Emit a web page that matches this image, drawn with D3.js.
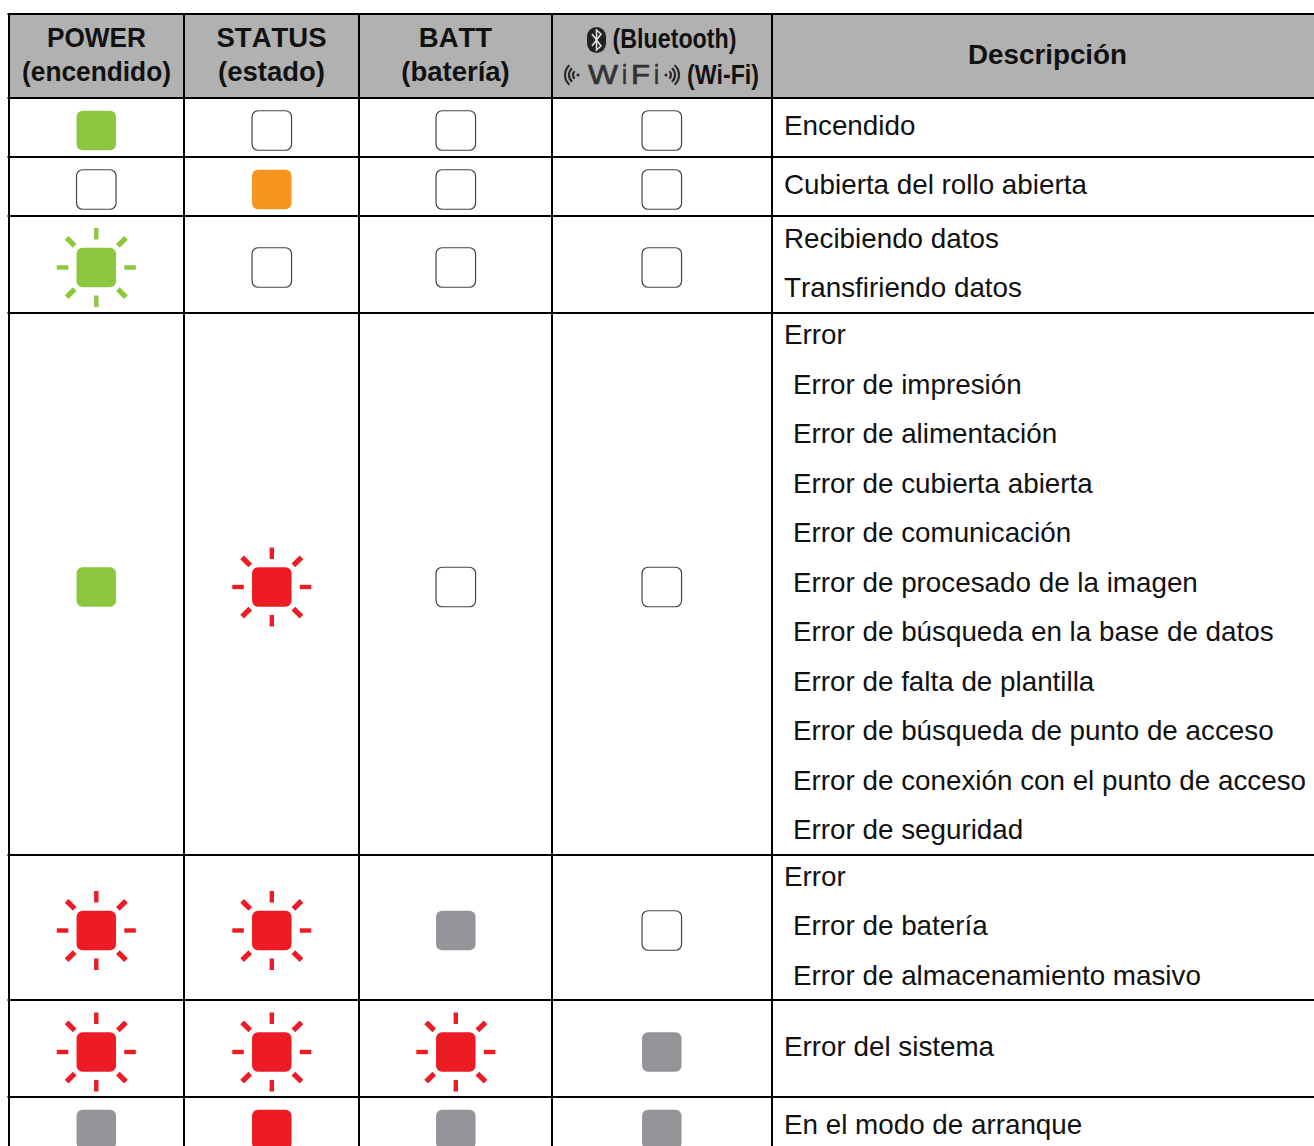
<!DOCTYPE html>
<html>
<head>
<meta charset="utf-8">
<script src="https://cdn.jsdelivr.net/npm/d3@7"></script>
<style>
body { margin: 0; background: #fff; }
svg { display: block; }
text { font-family: "Liberation Sans", Arial, sans-serif; fill: #111; font-kerning: none; }
</style>
</head>
<body>
<script>
const width = 1314;
const height = 1146;

// table content
const columns = ["power", "status", "batt", "wireless", "desc"];
const headerPower = ["POWER", "(encendido)"];
const headerStatus = ["STATUS", "(estado)"];
const headerBatt = ["BATT", "(batería)"];
const headerDesc = "Descripción";
const rowIds = ["r0", "r1", "r2", "r3", "r4", "r5", "r6"];

// lamp state per row: off, colour name = on, * = blinking
const powerStates = ["green", "off", "green*", "green", "red*", "red*", "gray"];
const statusStates = ["off", "orange", "off", "red*", "red*", "red*", "red"];
const battStates = ["off", "off", "off", "off", "gray", "red*", "gray"];
const wirelessStates = ["off", "off", "off", "off", "off", "gray", "gray"];

const descriptions = [
  ["Encendido"],
  ["Cubierta del rollo abierta"],
  ["Recibiendo datos", "Transfiriendo datos"],
  ["Error", " Error de impresión", " Error de alimentación", " Error de cubierta abierta",
   " Error de comunicación", " Error de procesado de la imagen", " Error de búsqueda en la base de datos",
   " Error de falta de plantilla", " Error de búsqueda de punto de acceso",
   " Error de conexión con el punto de acceso", " Error de seguridad"],
  ["Error", " Error de batería", " Error de almacenamiento masivo"],
  ["Error del sistema"],
  ["En el modo de arranque"]
];

// layout, kept apart from the values
const colEdges = [9, 184, 359, 552, 772, 1316];
const rowEdges = [98, 157, 216, 313, 855, 1000, 1097, 1160];
const lampRowY = [130.5, 189.5, 267.5, 587, 930.5, 1052, 1129.5];
const lampColX = [96.3, 271.8, 455.8, 661.8];
const textRowY = [135, 194, 247.5, 344, 885.8, 1056, 1134];
const lineStep = 49.5;
const headTop = 14;
const lampSize = 39.5;

const lampColor = { green: "#8dc63f", orange: "#f7941d", red: "#ed1c24", gray: "#939598" };

const xCenter = d3.scaleOrdinal().domain(columns.slice(0, 4)).range(lampColX);
const yLamp = d3.scaleOrdinal().domain(rowIds).range(lampRowY);
const yText = d3.scaleOrdinal().domain(rowIds).range(textRowY);

const svg = d3.select("body").append("svg")
  .attr("width", width)
  .attr("height", height)
  .attr("viewBox", [0, 0, width, height]);

// header band
svg.append("rect")
  .attr("x", colEdges[0]).attr("y", headTop)
  .attr("width", width - colEdges[0]).attr("height", rowEdges[0] - headTop)
  .attr("fill", "#b1b1b1");

// header text, two labels need squeezing to the printed width
const squeezed = { "POWER": 99, "(encendido)": 149 };
function headerText(lines, cx) {
  svg.selectAll(null).data(lines).enter().append("text")
    .attr("x", cx)
    .attr("y", (d, i) => 47 + i * 34)
    .attr("text-anchor", "middle")
    .attr("font-size", 27.5)
    .attr("font-weight", "bold")
    .attr("textLength", d => squeezed[d] || null)
    .attr("lengthAdjust", "spacingAndGlyphs")
    .text(d => d);
}
headerText(headerPower, (colEdges[0] + colEdges[1]) / 2);
headerText(headerStatus, (colEdges[1] + colEdges[2]) / 2);
headerText(headerBatt, (colEdges[2] + colEdges[3]) / 2);

svg.append("text")
  .attr("x", 1047.5).attr("y", 64)
  .attr("text-anchor", "middle")
  .attr("font-size", 27.8)
  .attr("font-weight", "bold")
  .text(headerDesc);

// wireless header: condensed labels plus the two logos
const wl = svg.append("g");
wl.append("text").attr("x", 612.5).attr("y", 48)
  .attr("font-size", 27).attr("font-weight", "bold")
  .attr("textLength", 124).attr("lengthAdjust", "spacingAndGlyphs")
  .text("(Bluetooth)");
wl.append("text").attr("x", 687).attr("y", 84)
  .attr("font-size", 27).attr("font-weight", "bold")
  .attr("textLength", 72).attr("lengthAdjust", "spacingAndGlyphs")
  .text("(Wi-Fi)");

wl.append("rect")
  .attr("x", 587).attr("y", 27).attr("width", 19).attr("height", 26)
  .attr("rx", 9.5).attr("fill", "#222");
wl.append("path")
  .attr("d", "M592 34 L601 46 L596.5 50 L596.5 30 L601 34 L592 46")
  .attr("fill", "none").attr("stroke", "#ddd").attr("stroke-width", 1.6);

// Wi-Fi logo letters
const logoLetters = ["W", "i", "F", "i"];
const logoX = [588, 622, 631, 654];
const logoW = [30, 5, 19, 5];
wl.selectAll(null).data(logoLetters).enter().append("text")
  .attr("x", (d, i) => logoX[i]).attr("y", 84)
  .attr("font-size", 28)
  .attr("textLength", (d, i) => logoW[i]).attr("lengthAdjust", "spacingAndGlyphs")
  .style("fill", "#333")
  .style("stroke", "#333").style("stroke-width", 0.7)
  .text(d => d);

// little radio waves either side of the logo
const waveArc = d3.arc().startAngle(-0.85).endAngle(0.85);
[5, 9, 13].forEach(function(r) {
  [[-1, 578], [1, 666]].forEach(function(s) {
    wl.append("path")
      .attr("transform", `translate(${s[1]},75) rotate(${s[0] * 90})`)
      .attr("d", waveArc({ innerRadius: r - 1.1, outerRadius: r + 1.1 }))
      .attr("fill", "#2a2a2a");
  });
});
wl.selectAll(null).data([578, 666]).enter().append("circle")
  .attr("cx", d => d).attr("cy", 75).attr("r", 1.6).attr("fill", "#2a2a2a");

// lamps
const rayAngles = d3.range(8).map(i => i * 45);
const cells = [];
[powerStates, statusStates, battStates, wirelessStates].forEach(function(states, c) {
  states.forEach(function(s, r) {
    cells.push({ col: columns[c], row: rowIds[r], state: s });
  });
});

const lamp = svg.selectAll("g.lamp").data(cells).enter().append("g")
  .attr("class", "lamp")
  .attr("transform", d => `translate(${xCenter(d.col)},${yLamp(d.row)})`);

lamp.append("rect")
  .attr("x", -lampSize / 2).attr("y", -lampSize / 2)
  .attr("width", lampSize).attr("height", lampSize)
  .attr("rx", 6)
  .attr("fill", d => d.state === "off" ? "#fff" : lampColor[d.state.replace("*", "")])
  .attr("stroke", d => d.state === "off" ? "#444" : "none")
  .attr("stroke-width", 1.2);

lamp.filter(d => d.state.endsWith("*"))
  .selectAll("rect.ray")
  .data(d => rayAngles.map(a => ({ a: a, color: lampColor[d.state.replace("*", "")] })))
  .enter().append("rect")
  .attr("class", "ray")
  .attr("x", d => d.a % 90 ? -2.6 : -2.2)
  .attr("y", d => d.a % 90 ? -42 : -39.5)
  .attr("width", d => d.a % 90 ? 5.2 : 4.4)
  .attr("height", 11.5)
  .attr("fill", d => d.color)
  .attr("transform", d => `rotate(${d.a})`);

// description column
const descRows = svg.selectAll("g.desc").data(descriptions).enter().append("g")
  .attr("class", "desc");

descRows.selectAll("text")
  .data((d, i) => d.map((t, j) => ({ t: t, row: rowIds[i], j: j })))
  .enter().append("text")
  .attr("x", d => d.t.startsWith(" ") ? 793 : 784)
  .attr("y", d => yText(d.row) + d.j * lineStep)
  .attr("font-size", 27.8)
  .text(d => d.t.trim());

// grid lines
svg.selectAll("line.h").data([headTop].concat(rowEdges.slice(0, 7))).enter().append("line")
  .attr("class", "h")
  .attr("x1", 7.5).attr("x2", width)
  .attr("y1", d => d).attr("y2", d => d)
  .attr("stroke", "#000").attr("stroke-width", 2);

svg.selectAll("line.v").data(colEdges.slice(0, 5)).enter().append("line")
  .attr("class", "v")
  .attr("x1", d => d).attr("x2", d => d)
  .attr("y1", headTop).attr("y2", height)
  .attr("stroke", "#000").attr("stroke-width", 2);
</script>
</body>
</html>
